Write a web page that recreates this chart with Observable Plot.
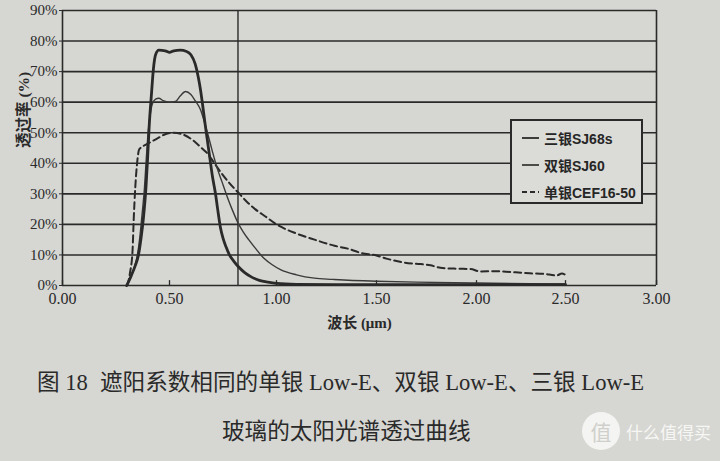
<!DOCTYPE html>
<html><head><meta charset="utf-8">
<script src="https://cdn.jsdelivr.net/npm/d3@7"></script>
<script src="https://cdn.jsdelivr.net/npm/@observablehq/plot@0.6"></script>
<style>
html,body{margin:0;padding:0;background:#d6d6d2;}
#wrap{position:relative;width:720px;height:461px;overflow:hidden;background:#d6d6d2;color:#262626;font-family:"Liberation Serif","Noto Sans CJK SC",serif;}
#chart{position:absolute;left:0;top:0;}
#legend{position:absolute;left:510px;top:119px;width:129px;height:81px;border:2px solid #2a2a2a;background:#dbdbd7;font-family:"Liberation Sans","Noto Sans CJK SC",sans-serif;font-weight:bold;font-size:14px;}
#legend .row{position:absolute;left:10px;height:20px;display:flex;align-items:center;white-space:nowrap;}
#legend svg{margin-right:5px;}
.cap{position:absolute;font-family:"Liberation Serif","Noto Sans CJK SC",serif;font-size:22.6px;white-space:nowrap;color:#2a2a2a;line-height:1;}
#wm{position:absolute;left:582px;top:412px;color:#f6f6f4;font-family:"Noto Sans CJK SC",sans-serif;font-size:17px;display:flex;align-items:center;white-space:nowrap;}
#wm .c{width:38px;height:38px;border-radius:50%;background:#f4f4f2;color:#cfcfcb;display:flex;align-items:center;justify-content:center;font-size:21px;margin-right:6px;}
</style></head><body>
<div id="wrap">
<div id="chart"></div>
<div id="legend"></div>
<div class="cap" id="cap1a" style="left:37px;top:372px;">图 18</div>
<div class="cap" id="cap1b" style="left:100px;top:372px;">遮阳系数相同的单银 Low-E、双银 Low-E、三银 Low-E</div>
<div class="cap" id="cap2" style="left:222px;top:421px;">玻璃的太阳光谱透过曲线</div>
<div id="wm"><div class="c">值</div><span>什么值得买</span></div>
</div>
<script>
// ---- data (wavelength in µm, transmittance in %) ----
const seriesNames = ["三银SJ68s", "双银SJ60", "单银CEF16-50"];

const wlTriple = [0.30,0.32,0.34,0.355,0.368,0.378,0.39,0.398,0.405,0.415,0.425,0.435,0.45,0.48,0.50,0.52,0.55,0.58,0.60,0.62,0.635,0.645,0.655,0.668,0.68,0.69,0.70,0.715,0.725,0.738,0.75,0.765,0.78,0.80,0.82,0.85,0.88,0.92,0.96,1.0,1.1,1.3,1.6,2.0,2.5];
const tTriple  = [0,3,6.5,10,16,22,32,42,52,62,71,75.5,77,76.8,76.3,76.8,77,76.6,75.5,72.5,68,64,59,52,46,41,36,30,25,19,15.5,12.5,10,8,6.3,4.3,2.9,1.7,1.1,0.7,0.4,0.3,0.3,0.3,0.3];

const wlDouble = [0.30,0.32,0.34,0.35,0.36,0.37,0.383,0.392,0.40,0.41,0.42,0.435,0.45,0.47,0.50,0.528,0.55,0.575,0.60,0.62,0.645,0.665,0.683,0.70,0.72,0.745,0.77,0.795,0.82,0.845,0.87,0.90,0.94,0.98,1.02,1.1,1.19,1.28,1.36,1.5,1.7,2.0,2.3,2.5];
const tDouble  = [0,3,7,10,15,22,32,42,50,56,59.5,61,61.3,60.5,60,60.2,62,63.5,62.5,60.5,57.5,53,48.5,44,39,34,29,24.5,20.5,17.5,15,12.3,9,6.8,5.2,3.5,2.4,2,1.7,1.4,1.1,0.8,0.6,0.5];

const wlSingle = [0.30,0.305,0.315,0.327,0.333,0.34,0.35,0.358,0.375,0.40,0.44,0.48,0.52,0.56,0.61,0.65,0.68,0.71,0.74,0.78,0.82,0.86,0.90,0.95,1.0,1.1,1.19,1.29,1.36,1.42,1.5,1.55,1.64,1.72,1.77,1.82,1.9,1.97,2.02,2.1,2.15,2.22,2.3,2.38,2.45,2.48,2.5];
const tSingle  = [0,0.5,4,11,22,32,41,44.5,45.5,46.5,48,49.5,50,49.5,47.5,45,43,40,37,33.5,30.5,27.5,25,22.5,20,17,15,13,12,10.7,9.8,8.8,7.5,7.0,6.6,5.8,5.5,5.4,4.6,4.7,4.6,4.3,4.0,3.8,3.3,3.9,3.5];

const xTicks = [0, 0.5, 1.0, 1.5, 2.0, 2.5, 3.0];
const yTicks = [0, 10, 20, 30, 40, 50, 60, 70, 80, 90];
const markerWavelength = [0.82];
const xLabel = "波长 (μm)";
const yLabel = "透过率 (%)";

// ---- build tables ----
const toRows = (wl, t) => wl.map((w, i) => ({wl: w, t: t[i]}));
const triple = toRows(wlTriple, tTriple);
const dbl = toRows(wlDouble, tDouble);
const single = toRows(wlSingle, tSingle);

const ink = "#2a2a2a";
const styles = [
  {stroke: ink, strokeWidth: 2.8, dash: null},
  {stroke: "#3a3a3a", strokeWidth: 1.4, dash: null},
  {stroke: ink, strokeWidth: 2, dash: "7,4"}
];

// tick positions as printed on the (slightly curved) page
const xTickPixels = [62, 169, 276, 376, 476, 565, 656];

const chart = Plot.plot({
  width: 720, height: 345,
  marginLeft: 62, marginRight: 64, marginTop: 10, marginBottom: 60,
  style: {background: "transparent", color: ink, fontFamily: "Liberation Serif, serif"},
  x: {type: "linear", domain: xTicks, range: xTickPixels},
  y: {domain: [0, 90]},
  marks: [
    Plot.ruleY(yTicks, {stroke: ink, strokeWidth: 1.6}),
    Plot.ruleX([xTicks[0], xTicks[xTicks.length - 1]], {stroke: ink, strokeWidth: 1.6}),
    Plot.ruleX(markerWavelength, {stroke: ink, strokeWidth: 1.4}),
    Plot.ruleX(xTicks, {y1: 0, y2: 1.6, stroke: ink, strokeWidth: 1.3}),
    Plot.line(single, {x: "wl", y: "t", stroke: styles[2].stroke, strokeWidth: styles[2].strokeWidth, strokeDasharray: styles[2].dash, curve: "monotone-x"}),
    Plot.line(dbl, {x: "wl", y: "t", stroke: styles[1].stroke, strokeWidth: styles[1].strokeWidth, curve: "monotone-x"}),
    Plot.line(triple, {x: "wl", y: "t", stroke: styles[0].stroke, strokeWidth: styles[0].strokeWidth, curve: "monotone-x"}),
    Plot.axisX(xTicks, {tickSize: 0, tickPadding: 7, tickFormat: d => d.toFixed(2), fontSize: 16, label: null}),
    Plot.axisY(yTicks, {tickSize: 3, tickPadding: 2, tickFormat: d => d + "%", fontSize: 15, label: null}),
    Plot.text([xLabel], {frameAnchor: "bottom", dy: 42, fontSize: 15, fontWeight: "bold", fontFamily: "Liberation Serif, Noto Sans CJK SC, serif"}),
    Plot.text([yLabel], {frameAnchor: "left", dx: -38, rotate: -90, fontSize: 15.5, fontWeight: "bold", fontFamily: "Liberation Serif, Noto Sans CJK SC, serif"})
  ]
});
document.getElementById("chart").appendChild(chart);

// ---- legend ----
const legend = document.getElementById("legend");
seriesNames.forEach((name, i) => {
  const row = document.createElement("div");
  row.className = "row";
  row.style.top = (7 + i * 27) + "px";
  const s = styles[i];
  row.innerHTML = `<svg width="17" height="10"><line x1="0" y1="5" x2="17" y2="5" stroke="${s.stroke}" stroke-width="1.8" ${i === 2 ? 'stroke-dasharray="5,3"' : ""}/></svg><span>${name}</span>`;
  legend.appendChild(row);
});
</script>
</body></html>
